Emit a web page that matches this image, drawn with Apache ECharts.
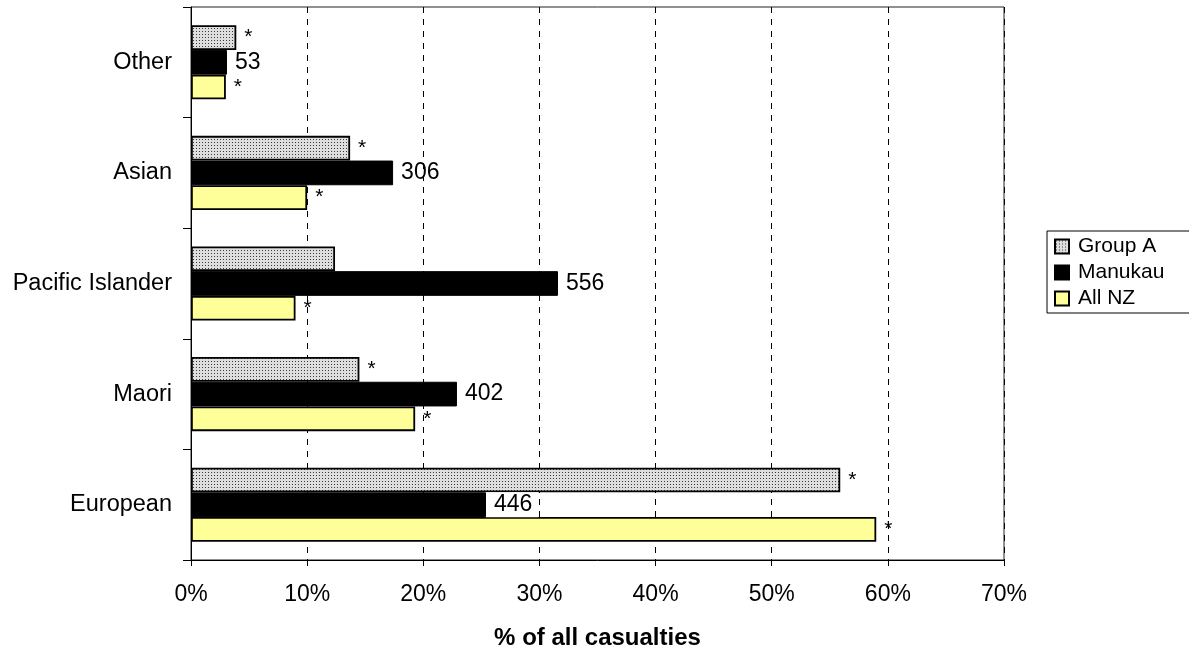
<!DOCTYPE html>
<html>
<head>
<meta charset="utf-8">
<style>
  html, body { margin: 0; padding: 0; background: #fff; }
  #chart { width: 1189px; height: 652px; }
</style>
<script src="https://cdn.jsdelivr.net/npm/echarts@6/dist/echarts.min.js"></script>
</head>
<body>
<div id="chart"></div>
<script>
// ---- data ----
const categories = ['European', 'Maori', 'Pacific Islander', 'Asian', 'Other'];
const seriesNames = ['Group A', 'Manukau', 'All NZ'];
const groupA = [55.9, 14.5, 12.4, 13.7, 3.9];
const manukau = [25.4, 22.9, 31.6, 17.4, 3.1];
const allNZ = [59.0, 19.3, 9.0, 10.0, 3.0];
const manukauCounts = ['446', '402', '556', '306', '53'];
const groupAMarks = ['*', '*', '', '*', '*'];
const allNZMarks = ['*', '*', '*', '*', '*'];
const xTicks = [0, 10, 20, 30, 40, 50, 60, 70];

// ---- pattern for Group A ----
function makePattern() {
  const c = document.createElement('canvas');
  c.width = 3; c.height = 3;
  const ctx = c.getContext('2d');
  ctx.fillStyle = '#dedede';
  ctx.fillRect(0, 0, 3, 3);
  ctx.fillStyle = '#3a3a3a';
  ctx.fillRect(1, 1, 1, 1);
  return c;
}
const patternFill = { image: makePattern(), repeat: 'repeat' };

const FONT = 'Liberation Sans, Arial, sans-serif';
const chart = echarts.init(document.getElementById('chart'), null, { renderer: 'canvas' });

const starLabel = (marks) => ({
  show: true,
  position: 'right',
  distance: 8,
  fontFamily: FONT,
  fontSize: 21,
  color: '#000',
  formatter: (p) => marks[p.dataIndex]
});

chart.setOption({
  animation: false,
  textStyle: { fontFamily: FONT, color: '#000' },
  grid: {
    left: 191, right: 185, top: 7, bottom: 92,
    outerBoundsMode: 'none',
    containLabel: false,
    show: true, borderColor: '#222', borderWidth: 1
  },
  legend: {
    orient: 'vertical',
    left: 1047, top: 231,
    data: seriesNames.map((n) => ({ name: n, icon: 'rect' })),
    borderColor: '#000', borderWidth: 1,
    padding: [5, 60, 4, 7],
    itemGap: 5,
    itemWidth: 14, itemHeight: 14,
    textStyle: { fontFamily: FONT, fontSize: 21, color: '#000', padding: [0, 0, 0, 4] }
  },
  xAxis: {
    type: 'value',
    min: 0, max: 70, interval: 10,
    axisLine: { show: true, lineStyle: { color: '#000', width: 1 } },
    axisTick: { show: true, length: 6, lineStyle: { color: '#000' } },
    axisLabel: {
      margin: 23, fontFamily: FONT, fontSize: 23, color: '#000',
      formatter: (v) => xTicks.includes(v) ? v + '%' : ''
    },
    splitLine: { show: true, lineStyle: { color: '#000', type: [6, 6], width: 1 } },
    name: '% of all casualties',
    nameLocation: 'middle',
    nameGap: 66,
    nameTextStyle: { fontFamily: FONT, fontSize: 24, fontWeight: 'bold', color: '#000' }
  },
  yAxis: {
    type: 'category',
    data: categories,
    axisLine: { show: true, lineStyle: { color: '#000', width: 1 } },
    axisTick: { show: true, length: 8, lineStyle: { color: '#000' } },
    axisLabel: { margin: 19, fontFamily: FONT, fontSize: 23.5, color: '#000' }
  },
  series: [
    {
      name: 'Group A', type: 'bar', data: groupA,
      barGap: '0%', barCategoryGap: '33%',
      itemStyle: { color: patternFill, borderColor: '#000', borderWidth: 1.8 },
      label: starLabel(groupAMarks)
    },
    {
      name: 'Manukau', type: 'bar',
      data: manukau.map((v, i) => i === 0 ? {
        value: v,
        label: { backgroundColor: '#fff', padding: [1, 6, 1, 8], distance: 0 }
      } : v),
      barGap: '0%', barCategoryGap: '33%',
      itemStyle: { color: '#000', borderColor: '#000', borderWidth: 1 },
      label: {
        show: true, position: 'right', distance: 8,
        fontFamily: FONT, fontSize: 23, color: '#000',
        formatter: (p) => manukauCounts[p.dataIndex]
      }
    },
    {
      name: 'All NZ', type: 'bar', data: allNZ,
      barGap: '0%', barCategoryGap: '33%',
      itemStyle: { color: '#ffff99', borderColor: '#000', borderWidth: 1.8 },
      label: starLabel(allNZMarks)
    }
  ]
});
</script>
</body>
</html>
